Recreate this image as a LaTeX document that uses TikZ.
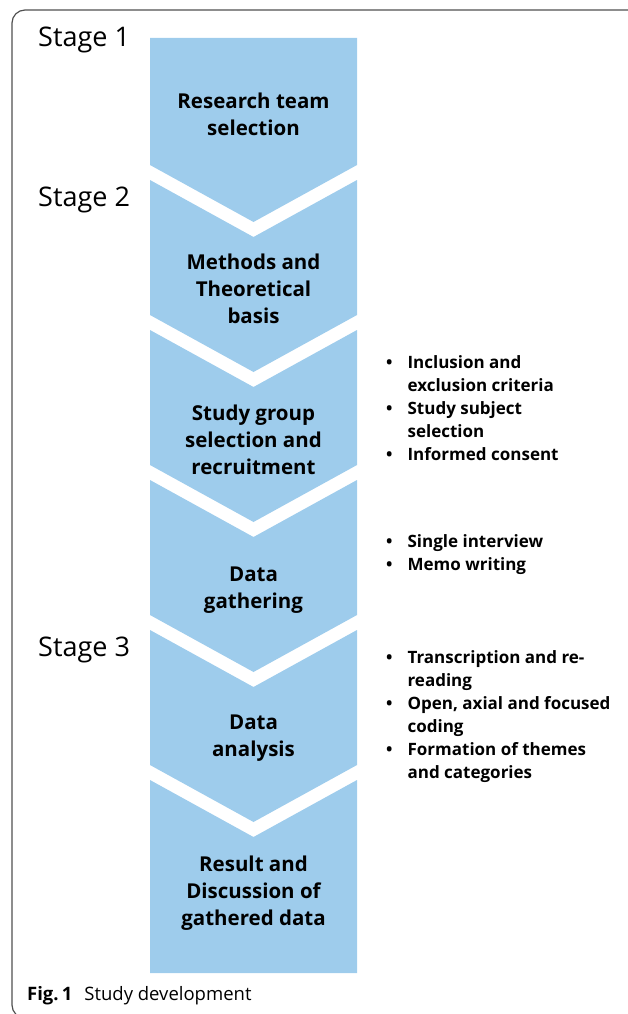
\documentclass[tikz,border=0pt]{standalone}
\usepackage{fontspec}
\setmainfont{Open Sans}
\usepackage{tikz}
\definecolor{chevblue}{RGB}{158,204,236}
\definecolor{framegray}{RGB}{80,80,80}
\tikzstyle{chev}=[fill=chevblue, draw=none]
\tikzstyle{step_text}=[align=center, inner sep=0pt, font=\bfseries\fontsize{20.5}{27}\selectfont]
\tikzstyle{stage_text}=[anchor=west, inner sep=0pt, font=\fontsize{27}{30}\selectfont]
\tikzstyle{bullet_list}=[anchor=base west, inner sep=0pt, font=\bfseries\fontsize{17}{23}\selectfont]

\begin{document}
\begin{tikzpicture}[x=1pt, y=-1pt]
\useasboundingbox (0,0) rectangle (627,1014);
\draw[framegray, line width=1.2pt, rounded corners=13pt] (640,10) -- (12,10) -- (12,1018) -- (40,1018);
% chevrons
\fill[chev] (150,38) -- (357,38) -- (357,165) -- (253.5,222) -- (150,165) -- cycle;
\fill[chev] (150,180) -- (253.5,237) -- (357,180) -- (357,315) -- (253.5,372) -- (150,315) -- cycle;
\fill[chev] (150,330) -- (253.5,387) -- (357,330) -- (357,465) -- (253.5,522) -- (150,465) -- cycle;
\fill[chev] (150,480) -- (253.5,537) -- (357,480) -- (357,615) -- (253.5,672) -- (150,615) -- cycle;
\fill[chev] (150,630) -- (253.5,687) -- (357,630) -- (357,765) -- (253.5,822) -- (150,765) -- cycle;
\fill[chev] (150,780) -- (253.5,837) -- (357,780) -- (357,973) -- (150,973) -- cycle;
\node[step_text] (st1) at (253.5,114) {Research team\\selection};
\node[step_text] (st2) at (253.5,289) {Methods and\\Theoretical\\basis};
\node[step_text] (st3) at (253.5,440) {Study group\\selection and\\recruitment};
\node[step_text] (st4) at (253.5,590) {Data\\gathering};
\node[step_text] (st5) at (253.5,738) {Data\\analysis};
\node[step_text] (st6) at (253.5,893) {Result and\\Discussion of\\gathered data};
% stages
\node[stage_text] (stage1) at (38,40) {Stage 1};
\node[stage_text] (stage2) at (38,200) {Stage 2};
\node[stage_text] (stage3) at (38,650) {Stage 3};
% bullet lists
\node[bullet_list] (list1) at (386,368) {\begin{tabular}[t]{@{}l@{\hspace{15pt}}l@{}}• & Inclusion and\\ & exclusion criteria\\• & Study subject\\ & selection\\• & Informed consent\end{tabular}};
\node[bullet_list] (list2) at (386,547) {\begin{tabular}[t]{@{}l@{\hspace{15pt}}l@{}}• & Single interview\\• & Memo writing\end{tabular}};
\node[bullet_list] (list3) at (386,663) {\begin{tabular}[t]{@{}l@{\hspace{15pt}}l@{}}• & Transcription and re-\\ & reading\\• & Open, axial and focused\\ & coding\\• & Formation of themes\\ & and categories\end{tabular}};
\node[anchor=base west, inner sep=0pt, font=\fontsize{18.5}{22}\selectfont] (caption) at (27,1000) {\textbf{Fig.\,1}\hspace{12pt}Study development};
\end{tikzpicture}
\end{document}
